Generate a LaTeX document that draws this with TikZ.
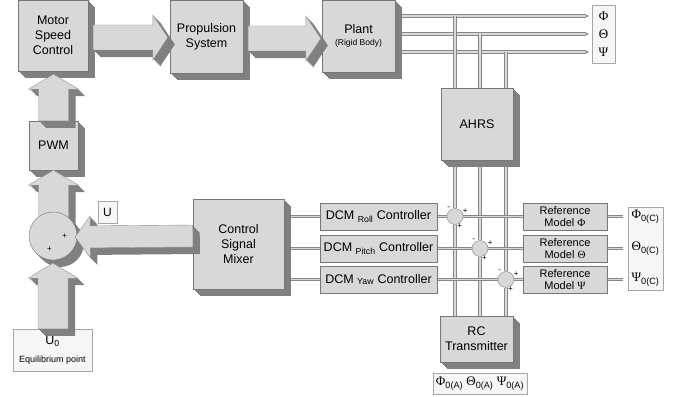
\documentclass[tikz,border=0pt]{standalone}
\usepackage{fontspec}
\setmainfont{Liberation Sans}
\newfontfamily\grk{Liberation Serif}
\usepackage{tikz}
\usetikzlibrary{arrows.meta, calc, positioning, shadows}

\pgfdeclarelayer{behind}
\pgfsetlayers{behind,main}

\definecolor{faceg}{RGB}{216,216,216}
\definecolor{sideg}{RGB}{128,128,128}
\definecolor{edgeg}{RGB}{118,118,118}
\definecolor{paleg}{RGB}{246,246,246}
\definecolor{pipeg}{RGB}{135,135,135}
\definecolor{pipein}{RGB}{218,218,218}

\tikzset{
    % one shifted copy of the outline, stacked to fake a 3D side
    extr/.style={general shadow={fill=sideg, shadow xshift=#1, shadow yshift=-#1}},
    deep/.style={extr=1pt, extr=2pt, extr=3pt, extr=4pt, extr=5pt, extr=6pt, extr=7pt},
    block/.style={draw=edgeg, fill=faceg, deep, align=center, inner sep=0pt},
    flatbox/.style={draw=edgeg, fill=faceg, inner sep=0pt, minimum width=117pt, minimum height=27pt},
    refbox/.style={draw=edgeg, fill=faceg, inner sep=0pt, minimum width=84pt, minimum height=27pt,
        align=center, font=\fontsize{11}{12.5}\selectfont},
    tag/.style={draw=gray!70, fill=paleg, inner sep=0pt, align=center},
    greek/.style={inner sep=0pt, font={\grk\fontsize{13}{13}\selectfont}},
    pipe/.style={draw=pipeg, double=pipein, double distance=1.6pt, line width=0.8pt},
    junction/.style={circle, draw=gray, fill=faceg, minimum size=16pt, inner sep=0pt},
    sign/.style={inner sep=0pt, font=\fontsize{8}{8}\selectfont},
    % fat block arrow from start to target, #1 = half width of the shaft
    fatarrow/.style={to path={
        let \p1=(\tikztostart), \p2=(\tikztotarget),
            \n1={atan2(\y2-\y1,\x2-\x1)} in
        ($(\p1)+({\n1+90}:{#1})$)
        -- ($(\p2)+({\n1+180}:15pt)+({\n1+90}:{#1})$)
        -- ($(\p2)+({\n1+180}:15pt)+({\n1+90}:{#1+10pt})$)
        -- (\p2)
        -- ($(\p2)+({\n1+180}:15pt)+({\n1-90}:{#1+10pt})$)
        -- ($(\p2)+({\n1+180}:15pt)+({\n1-90}:{#1})$)
        -- ($(\p1)+({\n1-90}:{#1})$) -- cycle}},
    fatarrow/.default=12.5pt,
    arrowbody/.style={draw=gray!85, fill=faceg, line join=miter, deep}
}

\begin{document}
\begin{tikzpicture}[x=1pt, y=-1pt, font=\fontsize{12.5}{15}\selectfont]
    \useasboundingbox (0,0) rectangle (679,396);

    % Forward path
    \node[block, minimum width=70pt, minimum height=71pt] (msc) at (53,35.5) {Motor\\Speed\\Control};
    \node[block, minimum width=73pt, minimum height=73pt] (prop) at (206.5,36.5) {Propulsion\\System};
    \node[block, minimum width=73pt, minimum height=72pt] (plant) at (358.5,36)
        {Plant\\[-3pt]{\fontsize{8.5}{10}\selectfont(Rigid Body)}};
    \node[block, minimum width=49pt, minimum height=49pt] (pwm) at (53.5,145.5) {PWM};
    \node[block, minimum width=72pt, minimum height=72pt] (ahrs) at (477,124) {AHRS};
    \node[block, minimum width=91pt, minimum height=90pt] (mixer) at (238.5,244) {Control\\Signal\\Mixer};
    \node[block, minimum width=73pt, minimum height=46pt] (rc) at (476.5,339) {RC\\Transmitter};

    % Attitude controllers and reference models
    \node[flatbox] (droll) at (378.5,216.5) {DCM \textsubscript{Roll} Controller};
    \node[flatbox] (dpitch) at (378.5,248.5) {DCM \textsubscript{Pitch} Controller};
    \node[flatbox] (dyaw) at (378.5,279.5) {DCM \textsubscript{Yaw} Controller};
    \node[refbox] (rroll) at (565,216.5) {Reference\\Model {\grk Φ}};
    \node[refbox] (rpitch) at (565,248.5) {Reference\\Model {\grk Θ}};
    \node[refbox] (ryaw) at (565,279.5) {Reference\\Model {\grk Ψ}};

    % Error junctions
    \node[junction, label={[sign]125:-}, label={[sign]20:+}, label={[sign, label distance=-1pt]-75:+}] (sroll) at (455,216.5) {};
    \node[junction, label={[sign]125:-}, label={[sign]20:+}, label={[sign, label distance=-1pt]-75:+}] (spitch) at (480,248.5) {};
    \node[junction, label={[sign]125:-}, label={[sign]20:+}, label={[sign, label distance=-1pt]-75:+}] (syaw) at (506,279.5) {};

    % Labels and signal tags
    \node[tag, minimum width=19pt, minimum height=22pt, font=\fontsize{12}{14}\selectfont] (ulab) at (107.5,212) {U};
    \node[tag, minimum width=79pt, minimum height=42pt] (u0) at (52.5,350)
        {U\textsubscript{0}\\[3pt]{\fontsize{9}{11}\selectfont Equilibrium point}};

    \node[tag, minimum width=23pt, minimum height=58pt] (outp) at (603.5,34) {};
    \node[greek] (phio) at (603.5,16) {Φ};
    \node[greek] (thetao) at (603.5,34) {Θ};
    \node[greek] (psio) at (603.5,52) {Ψ};

    \node[tag, minimum width=35pt, minimum height=83pt] (outc) at (645.5,248.5) {};
    \node[greek] (phic) at (645.5,216.5) {Φ\textsubscript{\textrm{0(C)}}};
    \node[greek] (thetac) at (645.5,248.5) {Θ\textsubscript{\textrm{0(C)}}};
    \node[greek] (psic) at (645.5,279.5) {Ψ\textsubscript{\textrm{0(C)}}};

    \node[tag, minimum width=94pt, minimum height=21pt, font={\grk\fontsize{13}{13}\selectfont}] (outa) at (480,383.5)
        {Φ\textsubscript{\textrm{0(A)}} Θ\textsubscript{\textrm{0(A)}} Ψ\textsubscript{\textrm{0(A)}}};

    % Block arrows
    \draw[arrowbody] ($(msc.east |- prop.west)+(5,1)$) to[fatarrow] ($(prop.west)+(-2,1)$);
    \draw[arrowbody] ($(prop.east |- plant.west)+(5,2.5)$) to[fatarrow] ($(plant.west)+(-1,2.5)$);
    \draw[arrowbody] (pwm.north) to[fatarrow=15pt] ($(pwm.north |- msc.south)+(0,3)$);

    \coordinate (sumc) at (53,236);
    \draw[arrowbody] (pwm.south |- sumc) to[fatarrow=15pt] (pwm.south);
    \node[circle, draw=edgeg, fill=faceg, deep, minimum size=48pt, inner sep=0pt,
        label={[sign, label distance=-15pt]0:+}, label={[sign, label distance=-13pt]-95:+}] (sum) at (sumc) {};
    \draw[arrowbody] (sum.south |- u0.north) to[fatarrow=15pt] ($(sum.south)+(0,3)$);
    \draw[arrowbody] (mixer.west |- sum) to[fatarrow=11pt] ($(sum.east)+(-2,1)$);

    % Signal lines
    \begin{pgfonlayer}{behind}
        \draw[pipe, -{Stealth[length=4pt, width=4pt]}] (plant.east |- phio) -- ($(outp.west |- phio)+(-3,0)$);
        \draw[pipe, -{Stealth[length=4pt, width=4pt]}] (plant.east |- thetao) -- ($(outp.west |- thetao)+(-3,0)$);
        \draw[pipe, -{Stealth[length=4pt, width=4pt]}] (plant.east |- psio) -- ($(outp.west |- psio)+(-3,0)$);

        \draw[pipe] (sroll |- phio) -- (sroll |- ahrs.north);
        \draw[pipe] (spitch |- thetao) -- (spitch |- ahrs.north);
        \draw[pipe] (syaw |- psio) -- (syaw |- ahrs.north);

        \draw[pipe] (sroll |- ahrs.south) -- (sroll.north);
        \draw[pipe] (spitch |- ahrs.south) -- (spitch.north);
        \draw[pipe] (syaw |- ahrs.south) -- (syaw.north);
        \draw[pipe] (sroll.south) -- (sroll |- rc.north);
        \draw[pipe] (spitch.south) -- (spitch |- rc.north);
        \draw[pipe] (syaw.south) -- (syaw |- rc.north);

        \draw[pipe] (mixer.east |- droll) -- (droll.west);
        \draw[pipe] (mixer.east |- dpitch) -- (dpitch.west);
        \draw[pipe] (mixer.east |- dyaw) -- (dyaw.west);
        \draw[pipe] (droll.east) -- (sroll.west);
        \draw[pipe] (dpitch.east) -- (spitch.west);
        \draw[pipe] (dyaw.east) -- (syaw.west);
        \draw[pipe] (sroll.east) -- (rroll.west);
        \draw[pipe] (spitch.east) -- (rpitch.west);
        \draw[pipe] (syaw.east) -- (ryaw.west);
        \draw[pipe] (rroll.east) -- ($(outc.west |- phic)+(-5,0)$);
        \draw[pipe] (rpitch.east) -- ($(outc.west |- thetac)+(-5,0)$);
        \draw[pipe] (ryaw.east) -- ($(outc.west |- psic)+(-5,0)$);
    \end{pgfonlayer}
\end{tikzpicture}
\end{document}
